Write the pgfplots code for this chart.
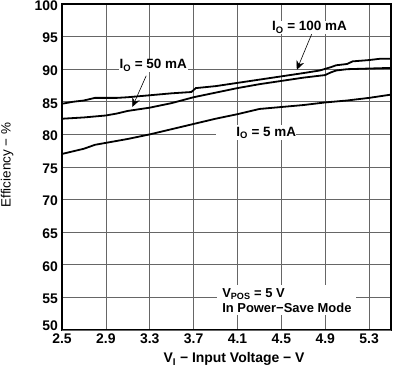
\documentclass[border=0pt]{standalone}
\usepackage{fontspec}
\setmainfont{Liberation Sans}
\usepackage{pgfplots}
\pgfplotsset{compat=1.18}
\usetikzlibrary{arrows.meta}
\begin{document}
\begin{tikzpicture}
\begin{axis}[
  scale only axis, width=329bp, height=326bp,
  xmin=2.5, xmax=5.5, ymin=50, ymax=100,
  xtick={2.5,2.9,3.3,3.7,4.1,4.5,4.9,5.3},
  ytick={55,60,65,70,75,80,85,90,95,100},
  extra y ticks={50},
  extra y tick style={yticklabel style={yshift=5.5bp}},
  grid=major, major grid style={black!60, line width=0.6bp},
  axis line style={line width=1.6bp},
  tick style={draw=none},
  /pgf/number format/assume math mode=true,
  xticklabel={\pgfmathprintnumber[fixed,precision=1,zerofill]{\tick}},
  ticklabel style={font=\fontsize{14}{16}\selectfont\bfseries},
  xticklabel style={anchor=base, yshift=-14bp},
  yticklabel style={xshift=-0.5bp, yshift=-1.5bp},
  xlabel={V\textsubscript{I} − Input Voltage − V},
  ylabel={Efficiency − \%},
  xlabel style={font=\fontsize{14}{16}\selectfont\bfseries, at={(axis description cs:0.523,-0.101)}, anchor=base},
  ylabel style={font=\fontsize{13.5}{16}\selectfont, at={(axis description cs:-0.186,0.506)}, anchor=north, inner sep=0pt},
]
\addplot[black, line width=1.8bp] coordinates {
(2.5,84.7) (2.6,85.0) (2.7,85.2) (2.8,85.6) (2.9,85.6) (3.0,85.6) (3.1,85.7)
(3.3,86.0) (3.5,86.3) (3.68,86.5) (3.72,87.1) (3.9,87.4) (4.1,87.9) (4.3,88.4)
(4.5,88.9) (4.7,89.4) (4.85,89.8) (4.95,90.3) (5.0,90.6) (5.1,90.8) (5.15,91.2)
(5.3,91.4) (5.4,91.6) (5.5,91.6)};
\addplot[black, line width=1.8bp] coordinates {
(2.5,82.4) (2.7,82.6) (2.9,82.9) (3.0,83.2) (3.1,83.6) (3.3,84.1) (3.5,84.8)
(3.7,85.7) (3.9,86.4) (4.1,87.1) (4.3,87.7) (4.5,88.2) (4.7,88.7) (4.9,89.1)
(4.95,89.5) (5.0,89.8) (5.1,90.0) (5.3,90.1) (5.5,90.2)};
\addplot[black, line width=1.8bp] coordinates {
(2.5,77.0) (2.7,77.8) (2.8,78.4) (2.9,78.7) (3.1,79.3) (3.3,80.0) (3.5,80.8)
(3.7,81.6) (3.9,82.4) (4.1,83.1) (4.3,83.9) (4.5,84.2) (4.7,84.5) (4.9,84.9)
(5.1,85.2) (5.3,85.6) (5.5,86.1)};
\draw[line width=0.6bp, -{Stealth[length=9bp,width=8bp]}] (axis cs:4.777,95.4) -- (axis cs:4.641,89.9);
\draw[line width=0.6bp, -{Stealth[length=9bp,width=8bp]}] (axis cs:3.268,89.0) -- (axis cs:3.141,84.2);
\node[font=\fontsize{13.5}{16}\selectfont\bfseries, fill=white, inner sep=1bp, anchor=base west] at (axis cs:4.405,95.86) {I\textsubscript{O} = 100 mA};
\node[font=\fontsize{13.5}{16}\selectfont\bfseries, fill=white, inner sep=1bp, anchor=base west] at (axis cs:3.014,90.03) {I\textsubscript{O} = 50 mA};
\node[font=\fontsize{13.5}{16}\selectfont\bfseries, fill=white, inner xsep=0pt, inner ysep=2bp, anchor=base west] at (axis cs:3.905,79.75) {\hspace{20bp}I\textsubscript{O} = 5 mA\hspace{3bp}};
\node[font=\fontsize{13}{15}\selectfont\bfseries, fill=white, align=left, inner xsep=5bp, inner ysep=3bp, anchor=north west] at (axis cs:3.914,56.9) {V\textsubscript{POS} = 5 V\\In Power−Save Mode};
\end{axis}
\pgfresetboundingbox
\path ([shift={(-62bp,-43bp)}]current axis.south west) rectangle ([shift={(2bp,4bp)}]current axis.north east);
\end{tikzpicture}
\end{document}
